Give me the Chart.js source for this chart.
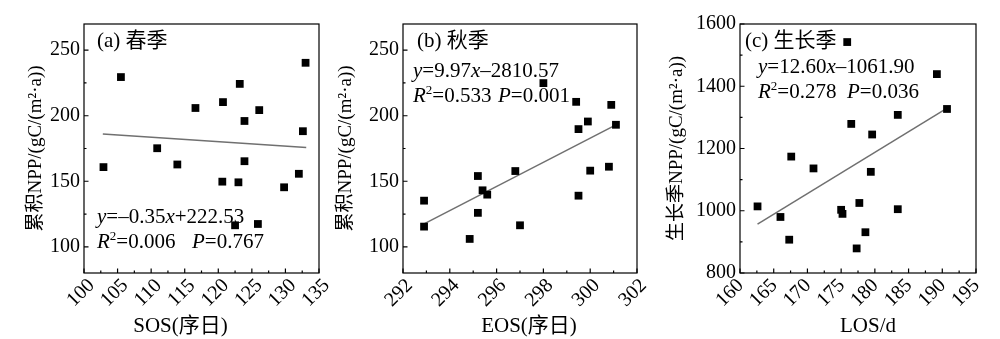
<!DOCTYPE html>
<html>
<head>
<meta charset="utf-8">
<script src="https://cdn.jsdelivr.net/npm/chart.js@4.4.1/dist/chart.umd.min.js"></script>
<style>
  body { margin: 0; background: #fff; }
  #wrap { position: relative; width: 1000px; height: 339px; overflow: hidden; }
  canvas { position: absolute; top: 0; }
</style>
</head>
<body>
<div id="wrap">
  <canvas id="spring" width="330" height="339" style="left:0px"></canvas>
  <canvas id="autumn" width="330" height="339" style="left:330px"></canvas>
  <canvas id="season" width="340" height="339" style="left:660px"></canvas>
</div>
<script>
// --- Данные ---
const springSOS = [102.9, 105.5, 110.9, 113.9, 116.6, 120.7, 120.6, 123.0, 122.5, 123.2, 123.9, 123.9, 126.1, 125.9, 129.8, 132.0, 132.6, 133.0];
const springNPP = [160.8, 229.5, 175.2, 162.8, 205.9, 210.4, 149.7, 149.2, 116.4, 224.3, 196.0, 165.3, 204.3, 117.4, 145.4, 155.7, 188.2, 240.4];
const springFitX = [102.8, 133.1];
const springFitY = [186.1, 175.7];
const springXTicks = [100, 105, 110, 115, 120, 125, 130, 135];
const springXMinor = [102.5, 107.5, 112.5, 117.5, 122.5, 127.5, 132.5];
const springYTicks = [100, 150, 200, 250];
const springYMinor = [125, 175, 225];

const autumnEOS = [292.9, 292.9, 294.85, 295.2, 295.2, 295.4, 295.6, 296.8, 297.0, 298.0, 299.4, 299.5, 299.9, 300.0, 299.5, 300.8, 300.9, 301.1];
const autumnNPP = [135.2, 115.4, 106.0, 154.0, 125.9, 143.1, 139.8, 157.8, 116.4, 224.9, 210.6, 189.8, 195.6, 158.1, 139.0, 161.1, 208.3, 193.1];
const autumnFitX = [292.9, 301.1];
const autumnFitY = [117.5, 193.0];
const autumnXTicks = [292, 294, 296, 298, 300, 302];
const autumnXMinor = [293, 295, 297, 299, 301];
const autumnYTicks = [100, 150, 200, 250];
const autumnYMinor = [125, 175, 225];

const seasonLOS = [175.9, 162.6, 166.0, 167.6, 167.3, 170.9, 176.5, 175.0, 175.2, 177.7, 177.3, 189.2, 190.7, 183.4, 179.6, 179.4, 183.4, 178.6];
const seasonNPP = [1542, 1014, 980, 1174, 907, 1136, 1279, 1003, 990, 1025, 879, 1439, 1327, 1308, 1245, 1125, 1005, 931];
const seasonFitX = [162.6, 190.9];
const seasonFitY = [957, 1332];
const seasonXTicks = [160, 165, 170, 175, 180, 185, 190, 195];
const seasonXMinor = [162.5, 167.5, 172.5, 177.5, 182.5, 187.5, 192.5];
const seasonYTicks = [800, 1000, 1200, 1400, 1600];
const seasonYMinor = [900, 1100, 1300, 1500];

// подписи и уравнения: [текст, стиль] (i - курсив, n - обычный, s - индекс)
const springEq = [['y', 'i'], ['=–0.35', 'n'], ['x', 'i'], ['+222.53', 'n']];
const springR2 = [['R', 'i'], ['2', 's'], ['=0.006', 'n']];
const springP = [['P', 'i'], ['=0.767', 'n']];
const autumnEq = [['y', 'i'], ['=9.97', 'n'], ['x', 'i'], ['–2810.57', 'n']];
const autumnR2 = [['R', 'i'], ['2', 's'], ['=0.533', 'n']];
const autumnP = [['P', 'i'], ['=0.001', 'n']];
const seasonEq = [['y', 'i'], ['=12.60', 'n'], ['x', 'i'], ['–1061.90', 'n']];
const seasonR2 = [['R', 'i'], ['2', 's'], ['=0.278', 'n']];
const seasonP = [['P', 'i'], ['=0.036', 'n']];

const FONT = '"Liberation Serif", "Noto Sans CJK SC", serif';

// --- Отрисовка текста с курсивом ---
function drawRich(ctx, parts, x, y) {
    parts.forEach(([t, s]) => {
        if (s === 's') {
            ctx.font = '13px ' + FONT;
            ctx.fillText(t, x, y - 8);
        } else {
            ctx.font = (s === 'i' ? 'italic ' : '') + '21px ' + FONT;
            ctx.fillText(t, x, y);
        }
        x += ctx.measureText(t).width;
    });
}

// --- Рамка, внутренние засечки, подписи оси X, надписи ---
function overlay(cfg) {
    return {
        id: 'overlay',
        afterDraw(chart) {
            const { ctx, chartArea: a, scales: { x, y } } = chart;
            ctx.save();
            ctx.strokeStyle = '#000';
            ctx.lineWidth = 1.2;
            ctx.strokeRect(a.left, a.top, a.right - a.left, a.bottom - a.top);
            ctx.beginPath();
            const xt = (v, len) => { const px = x.getPixelForValue(v); ctx.moveTo(px, a.bottom); ctx.lineTo(px, a.bottom - len); };
            const yt = (v, len) => { const py = y.getPixelForValue(v); ctx.moveTo(a.left, py); ctx.lineTo(a.left + len, py); };
            cfg.xTicks.forEach(v => xt(v, 4.5));
            cfg.xMinor.forEach(v => xt(v, 2.5));
            cfg.yTicks.forEach(v => yt(v, 4.5));
            cfg.yMinor.forEach(v => yt(v, 2.5));
            ctx.stroke();

            ctx.fillStyle = '#000';

            // повернутые подписи делений X
            ctx.font = '20px ' + FONT;
            ctx.textAlign = 'center';
            ctx.textBaseline = 'middle';
            cfg.xTicks.forEach(v => {
                ctx.save();
                ctx.translate(x.getPixelForValue(v) + cfg.xLabDx, 293);
                ctx.rotate(-Math.PI / 4);
                ctx.fillText(String(v), 0, 0);
                ctx.restore();
            });

            ctx.textBaseline = 'alphabetic';
            ctx.textAlign = 'left';
            ctx.font = '21px ' + FONT;
            ctx.fillText(cfg.label, a.left + cfg.labelX, 47);
            drawRich(ctx, cfg.eq, a.left + cfg.eqX, cfg.eqY);
            drawRich(ctx, cfg.r2, a.left + cfg.eqX, cfg.eqY + 25);
            drawRich(ctx, cfg.p, a.left + cfg.eqX + cfg.pX, cfg.eqY + 25);

            // подпись оси X
            ctx.font = '21px ' + FONT;
            ctx.textAlign = 'center';
            ctx.textBaseline = 'middle';
            ctx.fillText(cfg.xTitle, (a.left + a.right) / 2 + cfg.xTitleShift, 326);
            ctx.restore();
        }
    };
}

function makeChart(id, cfg) {
    new Chart(document.getElementById(id), {
        type: 'scatter',
        data: {
            datasets: [
                {
                    data: cfg.xs.map((v, i) => ({ x: v, y: cfg.ys[i] })),
                    pointStyle: 'rect', pointRadius: 5.5, backgroundColor: '#000', borderWidth: 0
                },
                {
                    data: cfg.fitX.map((v, i) => ({ x: v, y: cfg.fitY[i] })),
                    showLine: true, pointRadius: 0, borderColor: '#707070', borderWidth: 1.5
                }
            ]
        },
        options: {
            responsive: false,
            animation: false,
            layout: { padding: { left: 0, right: cfg.padRight, top: 24, bottom: 0 } },
            plugins: { legend: { display: false }, tooltip: { enabled: false } },
            scales: {
                x: {
                    type: 'linear', min: cfg.xMin, max: cfg.xMax,
                    afterBuildTicks: s => { s.ticks = cfg.xTicks.map(v => ({ value: v })); },
                    afterFit: s => { s.height = 66; },
                    grid: { display: false, drawTicks: false },
                    border: { display: false },
                    ticks: { display: false }
                },
                y: {
                    type: 'linear', min: cfg.yMin, max: cfg.yMax,
                    afterBuildTicks: s => { s.ticks = cfg.yTicks.map(v => ({ value: v })); },
                    afterFit: s => { s.width = cfg.yWidth; },
                    grid: { display: false, drawTicks: false },
                    border: { display: false },
                    ticks: { autoSkip: false, padding: 4, color: '#000', font: { family: FONT, size: 20 }, callback: v => String(v) },
                    title: {
                        display: true, text: cfg.yTitle, color: '#000',
                        font: { family: FONT, size: 19 }, padding: { top: cfg.yTitlePad, bottom: 0 }
                    }
                }
            }
        },
        plugins: [overlay(cfg)]
    });
}

// --- (a) весна ---
makeChart('spring', {
    xs: springSOS, ys: springNPP, fitX: springFitX, fitY: springFitY,
    xMin: 100, xMax: 135, yMin: 80, yMax: 270,
    xTicks: springXTicks, xMinor: springXMinor, yTicks: springYTicks, yMinor: springYMinor,
    yWidth: 84, padRight: 11, yTitlePad: 25, xLabDx: -3,
    yTitle: '累积NPP/(gC/(m²·a))', xTitle: 'SOS(序日)', xTitleShift: -21,
    label: '(a) 春季', labelX: 13,
    eq: springEq, r2: springR2, p: springP, eqX: 13, eqY: 223, pX: 95
});

// --- (b) осень ---
makeChart('autumn', {
    xs: autumnEOS, ys: autumnNPP, fitX: autumnFitX, fitY: autumnFitY,
    xMin: 292, xMax: 302, yMin: 80, yMax: 270,
    xTicks: autumnXTicks, xMinor: autumnXMinor, yTicks: autumnYTicks, yMinor: autumnYMinor,
    yWidth: 73, padRight: 23, yTitlePad: 5, xLabDx: -4,
    yTitle: '累积NPP/(gC/(m²·a))', xTitle: 'EOS(序日)', xTitleShift: 9,
    label: '(b) 秋季', labelX: 14,
    eq: autumnEq, r2: autumnR2, p: autumnP, eqX: 10, eqY: 77, pX: 85
});

// --- (c) вегетационный период ---
makeChart('season', {
    xs: seasonLOS, ys: seasonNPP, fitX: seasonFitX, fitY: seasonFitY,
    xMin: 160, xMax: 195, yMin: 800, yMax: 1600,
    xTicks: seasonXTicks, xMinor: seasonXMinor, yTicks: seasonYTicks, yMinor: seasonYMinor,
    yWidth: 80, padRight: 24, yTitlePad: 6, xLabDx: -10,
    yTitle: '生长季NPP/(gC/(m²·a))', xTitle: 'LOS/d', xTitleShift: 10,
    label: '(c) 生长季', labelX: 5,
    eq: seasonEq, r2: seasonR2, p: seasonP, eqX: 18, eqY: 73, pX: 89
});
</script>
</body>
</html>
